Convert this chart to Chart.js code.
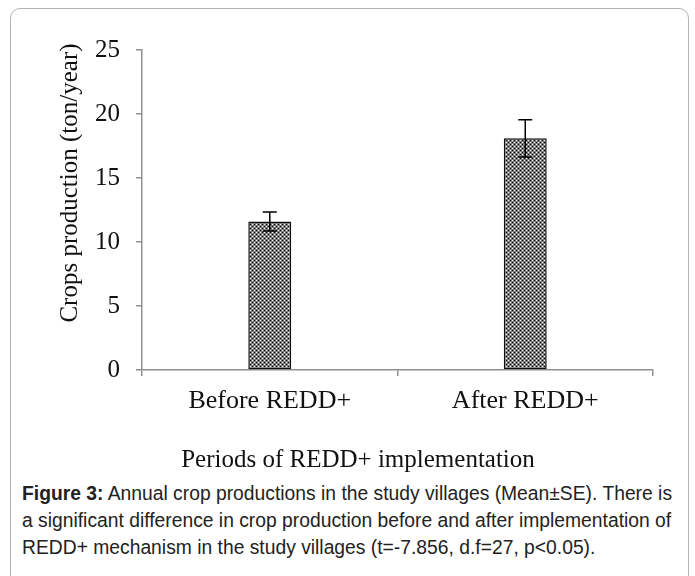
<!DOCTYPE html>
<html>
<head>
<meta charset="utf-8">
<script src="https://cdn.jsdelivr.net/npm/chart.js@4"></script>
<style>
  body { margin: 0; background: #fff; }
  #frame {
    position: absolute; left: 10px; top: 8px; width: 677px; height: 600px;
    border: 1.5px solid #b4b4b4; border-radius: 10px;
  }
  #chartWrap { position: absolute; left: 0; top: 0; }
  #caption {
    position: absolute; left: 22px; top: 480px; width: 665px;
    font-family: "Liberation Sans", Arial, sans-serif; font-size: 19.3px;
    line-height: 27px; color: #222; white-space: nowrap;
  }
</style>
</head>
<body>
<div id="frame"></div>
<div id="chartWrap"><canvas id="cropChart" width="695" height="480"></canvas></div>
<div id="caption"><b>Figure 3:</b> Annual crop productions in the study villages (Mean±SE). There is<br>a significant difference in crop production before and after implementation of<br>REDD+ mechanism in the study villages (t=-7.856, d.f=27, p&lt;0.05).</div>
<script>
// data
const periods = ['Before REDD+', 'After REDD+'];
const cropMeans = [11.6, 18.1];
const cropSE = [0.75, 1.45];
const yTicks = [0, 5, 10, 15, 20, 25];

const serif = '"Liberation Serif", "Times New Roman", serif';
const axisGray = '#8f8f8f';

// dotted gray fill like the Excel pattern
function makePattern() {
    const p = document.createElement('canvas');
    p.width = 4; p.height = 4;
    const c = p.getContext('2d');
    c.fillStyle = '#7c7c7c';
    c.fillRect(0, 0, 4, 4);
    c.fillStyle = '#ffffff';
    c.fillRect(0, 0, 1, 1);
    c.fillRect(2, 2, 1, 1);
    c.fillStyle = '#000000';
    c.fillRect(2, 0, 1, 1);
    c.fillRect(0, 2, 1, 1);
    return c.createPattern(p, 'repeat');
}

// error bars from the SE array
const errorBars = {
    id: 'errorBars',
    afterDatasetsDraw(chart) {
        const ctx = chart.ctx;
        const meta = chart.getDatasetMeta(0);
        const y = chart.scales.y;
        ctx.save();
        ctx.strokeStyle = '#000';
        ctx.lineWidth = 1.5;
        meta.data.forEach((bar, i) => {
            const top = y.getPixelForValue(cropMeans[i] + cropSE[i]);
            const bot = y.getPixelForValue(cropMeans[i] - cropSE[i]);
            const x = bar.x;
            ctx.beginPath();
            ctx.moveTo(x, top); ctx.lineTo(x, bot);
            ctx.moveTo(x - 7, top); ctx.lineTo(x + 7, top);
            ctx.moveTo(x - 7, bot); ctx.lineTo(x + 7, bot);
            ctx.stroke();
        });
        ctx.restore();
    }
};

// axis titles, placed like the original (not centred on the plot)
const axisTitles = {
    id: 'axisTitles',
    afterDraw(chart) {
        const ctx = chart.ctx;
        ctx.save();
        ctx.fillStyle = '#111';
        ctx.font = '25px ' + serif;
        ctx.textAlign = 'center';
        ctx.textBaseline = 'middle';
        ctx.fillText('Periods of REDD+ implementation', 358, 460);
        ctx.translate(70, 183);
        ctx.rotate(-Math.PI / 2);
        ctx.fillText('Crops production (ton/year)', 0, 0);
        ctx.restore();
    }
};

new Chart(document.getElementById('cropChart'), {
    type: 'bar',
    data: {
        labels: periods,
        datasets: [{
            data: cropMeans,
            backgroundColor: makePattern(),
            borderColor: '#111',
            borderWidth: 1.5,
            borderSkipped: false,
            categoryPercentage: 1,
            barPercentage: 0.168
        }]
    },
    options: {
        responsive: false,
        animation: false,
        layout: { padding: { left: 0, top: 50, right: 42, bottom: 0 } },
        plugins: { legend: { display: false }, tooltip: { enabled: false } },
        scales: {
            x: {
                afterFit: s => { s.height = 110; },
                border: { display: true, color: axisGray, width: 1.5 },
                grid: { drawOnChartArea: false, drawTicks: true, tickLength: 6, color: axisGray, lineWidth: 1.5, offset: true },
                ticks: { color: '#111', padding: 10, maxRotation: 0, font: { family: serif, size: 26 } }
            },
            y: {
                min: 0, max: 25,
                afterFit: s => { s.width = 142; },
                afterBuildTicks: s => { s.ticks = yTicks.map(v => ({ value: v })); },
                border: { display: true, color: axisGray, width: 1.5 },
                grid: { drawOnChartArea: false, drawTicks: true, tickLength: 6, color: axisGray, lineWidth: 1.5 },
                ticks: { color: '#111', padding: 16, font: { family: serif, size: 25 } }
            }
        }
    },
    plugins: [errorBars, axisTitles]
});
</script>
</body>
</html>
